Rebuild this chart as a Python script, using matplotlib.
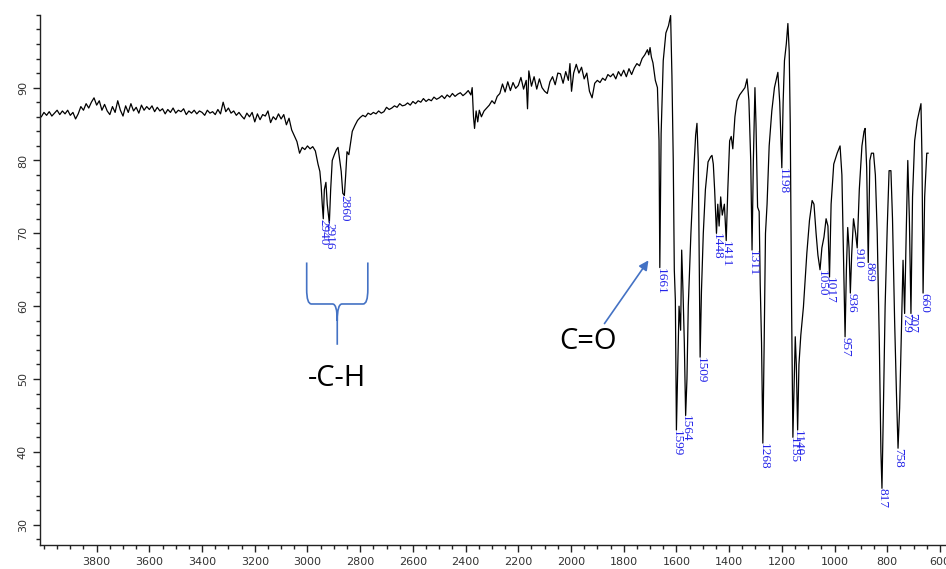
import numpy as np
import matplotlib
matplotlib.use("Agg")
import matplotlib.pyplot as plt
from matplotlib.path import Path
from matplotlib.patches import PathPatch
from matplotlib.ticker import MultipleLocator

# IR spectrum: wavenumber (cm-1) and transmittance (%)
wn_base = [4010, 4000, 3990, 3980, 3970, 3960, 3950, 3940, 3930, 3920, 3910, 3900,
           3890, 3880, 3870, 3860, 3850, 3840, 3830, 3820, 3810, 3800, 3790, 3780,
           3770, 3760, 3750, 3740, 3730, 3720, 3710, 3700, 3690, 3680, 3670, 3660,
           3650, 3640, 3630, 3620, 3610, 3600, 3590, 3580, 3570, 3560, 3550, 3540,
           3530, 3520, 3510, 3500, 3490, 3480, 3470, 3460, 3450, 3440, 3430, 3420,
           3410, 3400, 3390, 3380, 3370, 3360, 3350, 3340, 3330, 3320, 3310, 3300,
           3290, 3280, 3270, 3260, 3250, 3240, 3230, 3220, 3210, 3200, 3190, 3180,
           3170, 3160, 3150, 3140, 3130, 3120, 3110, 3100, 3090, 3080, 3070, 3060]
tr_base = [86.0, 86.6, 86.2, 86.7, 86.1, 86.5, 86.9, 86.3, 86.8, 86.4, 86.9, 86.2,
           86.6, 85.7, 86.4, 87.4, 86.9, 87.8, 87.2, 88.0, 88.6, 87.6, 88.2, 86.9,
           87.7, 86.8, 86.3, 87.4, 86.6, 88.2, 86.9, 86.1, 87.5, 86.6, 87.8, 86.8,
           87.3, 86.5, 87.6, 86.9, 87.4, 87.0, 87.5, 86.7, 87.3, 86.8, 87.1, 86.4,
           87.0, 86.6, 87.2, 86.5, 86.9, 86.7, 87.1, 86.3, 86.8, 86.5, 86.9, 86.4,
           86.8, 86.6, 86.2, 86.9, 86.5, 86.7, 86.3, 87.0, 86.4, 88.0, 86.7, 87.2,
           86.5, 86.8, 86.2, 86.6, 86.1, 85.7, 86.5, 86.0, 86.6, 85.3, 86.4, 85.6,
           86.3, 86.1, 86.8, 85.2, 86.0, 85.6, 86.4, 85.7, 86.3, 84.9, 85.8, 84.2]

wn_ch = [3050, 3040, 3030, 3020, 3010, 3000, 2990, 2980, 2970, 2960, 2953, 2948,
         2944, 2940, 2936, 2930, 2925, 2917, 2912, 2906, 2898, 2890, 2884, 2878,
         2872, 2866, 2860, 2855, 2850, 2843, 2838, 2830, 2820, 2810, 2800, 2790,
         2780, 2770, 2760, 2750, 2740, 2730, 2720, 2710, 2700, 2690, 2680, 2670,
         2660, 2650, 2640, 2630, 2620, 2610, 2600, 2590, 2580, 2570, 2560, 2550,
         2540, 2530, 2520, 2510, 2500, 2490, 2480, 2470, 2460, 2450, 2440, 2430,
         2420, 2410, 2400, 2390, 2380, 2375, 2370, 2366, 2360, 2354, 2348, 2340,
         2330, 2320, 2310, 2300, 2290, 2280, 2270, 2260, 2250, 2240, 2230, 2220,
         2210, 2200, 2190, 2180, 2170, 2165, 2160, 2150, 2140, 2130, 2120, 2110,
         2100, 2090, 2080, 2070, 2060, 2050, 2040, 2030, 2020, 2010, 2004, 1998,
         1990, 1980, 1970, 1960, 1950, 1940, 1930, 1920, 1910, 1900, 1890, 1880,
         1870, 1860, 1850, 1840, 1830, 1820, 1810, 1800, 1790, 1780, 1770, 1760,
         1750, 1740, 1730, 1720, 1710, 1705, 1700, 1695, 1689, 1680, 1672]
tr_ch = [83.4, 82.6, 81.0, 81.8, 81.5, 82.0, 81.6, 81.9, 81.3, 79.5, 78.5, 76.5,
         74.0, 72.0, 76.0, 77.0, 74.0, 71.4, 76.0, 80.0, 80.8, 81.5, 81.8, 80.2,
         78.5, 75.5, 75.2, 78.0, 81.2, 80.8, 82.0, 84.0, 84.8, 85.5, 85.9, 86.2,
         86.0, 86.5, 86.3, 86.6, 86.4, 86.8, 86.5, 86.7, 87.3, 87.0, 87.2, 87.5,
         87.3, 87.8, 87.5, 87.6, 87.9, 87.6, 88.1, 87.8, 88.2, 88.0, 88.5, 88.1,
         88.4, 88.2, 88.7, 88.4, 88.6, 88.9, 88.5, 89.0, 88.7, 89.2, 88.8, 89.1,
         89.3, 88.9, 89.2, 89.6, 89.0, 90.0, 86.0, 84.4, 86.8, 85.3, 86.9, 86.0,
         86.8, 87.2, 87.6, 88.2, 87.8, 88.8, 89.2, 90.5, 89.4, 90.8, 89.6, 90.7,
         89.9, 90.3, 91.4, 89.8, 91.0, 87.1, 92.3, 90.2, 91.5, 89.8, 91.2, 90.0,
         89.5, 89.2, 90.8, 91.5, 90.4, 92.0, 91.9, 90.6, 92.2, 91.0, 93.3, 89.5,
         92.0, 93.2, 92.0, 92.8, 91.2, 92.0, 89.5, 88.6, 90.6, 91.0, 90.7, 91.3,
         91.0, 91.8, 91.5, 91.9, 91.2, 92.2, 91.6, 92.4, 91.5, 92.6, 91.8, 92.7,
         93.3, 93.0, 94.0, 94.5, 95.2, 94.5, 95.5, 94.2, 93.4, 91.0, 90.0]

wn_fp = [1666, 1663, 1658, 1650, 1640, 1630, 1622, 1617, 1612, 1608, 1604, 1600,
         1596, 1590, 1584, 1580, 1575, 1570, 1565, 1560, 1555, 1545, 1535, 1527,
         1522, 1517, 1513, 1510, 1505, 1498, 1490, 1480, 1470, 1465, 1460, 1455,
         1448, 1443, 1438, 1432, 1426, 1418, 1411, 1405, 1398, 1392, 1386, 1378,
         1370, 1360, 1350, 1340, 1332, 1325, 1318, 1313, 1308, 1302, 1298, 1292,
         1286, 1282, 1277, 1272, 1267, 1262, 1256, 1248, 1238, 1228, 1215, 1208,
         1200, 1195, 1190, 1183, 1177, 1172, 1168, 1163, 1158, 1153, 1149, 1145,
         1140, 1135, 1128, 1118, 1105, 1095, 1085, 1078, 1070, 1063, 1055, 1048,
         1040, 1032, 1025, 1019, 1013, 1003, 990, 979, 972, 966, 960, 955,
         950, 945, 940, 935, 928, 920, 914, 906, 896, 888, 884, 878,
         872, 866, 860, 852, 845, 838, 830, 824, 820, 815, 808, 800,
         793, 786, 780, 772, 765, 759, 753, 746, 740, 734, 728, 722,
         716, 710, 704, 696, 686, 680, 672, 668, 664, 658, 650, 645]
tr_fp = [82.7, 65.3, 83.7, 93.7, 97.5, 98.5, 99.9, 91.6, 80.0, 65.0, 60.8, 43.0,
         50.0, 60.0, 56.7, 67.7, 62.0, 55.0, 45.0, 50.0, 60.0, 70.0, 78.0, 83.5,
         85.1, 80.0, 65.0, 53.0, 62.0, 70.0, 76.0, 79.8, 80.5, 80.7, 79.5, 76.0,
         70.0, 74.0, 71.0, 75.0, 72.5, 74.0, 69.0, 76.0, 82.7, 83.3, 81.6, 86.0,
         88.2, 89.0, 89.5, 90.0, 91.2, 88.3, 80.0, 67.7, 80.0, 90.0, 85.0, 73.6,
         73.0, 63.0, 55.0, 41.2, 55.0, 70.0, 74.0, 82.0, 86.8, 90.0, 92.1, 88.0,
         79.0, 88.0, 93.7, 96.0, 98.8, 95.0, 85.0, 60.0, 42.0, 50.0, 55.8, 52.0,
         43.0, 52.0, 56.0, 59.9, 67.3, 71.8, 74.5, 74.0, 70.0, 67.0, 65.0, 68.0,
         69.5, 72.0, 71.0, 64.0, 74.0, 79.5, 81.0, 82.0, 78.0, 67.0, 55.8, 65.0,
         70.8, 68.0, 61.8, 67.0, 72.0, 70.0, 68.0, 76.0, 82.0, 84.0, 84.4, 79.0,
         66.0, 80.0, 81.0, 81.0, 78.0, 70.0, 55.0, 40.0, 35.0, 45.0, 60.0, 70.8,
         78.6, 78.6, 72.0, 58.0, 48.0, 40.5, 46.0, 57.0, 66.3, 59.0, 70.0, 80.0,
         72.0, 59.0, 75.0, 82.7, 85.5, 86.5, 87.8, 80.0, 61.8, 75.0, 81.0, 81.0]

wn = wn_base + wn_ch + wn_fp
tr = tr_base + tr_ch + tr_fp

# peak labels (wavenumber, transmittance at the minimum)
peak_wn = [2940, 2916, 2860, 1661, 1599, 1564, 1509, 1448, 1411, 1311, 1268, 1198,
           1155, 1140, 1050, 1017, 957, 936, 910, 869, 817, 758, 729, 707, 660]
peak_tr = [72.0, 71.4, 75.2, 65.3, 43.0, 45.0, 53.0, 70.0, 69.0, 67.7, 41.2, 79.0,
           42.0, 43.0, 65.0, 64.0, 55.8, 61.8, 68.0, 66.0, 35.0, 40.5, 59.0, 59.0, 61.8]

fig = plt.figure(figsize=(9.46, 5.69), dpi=100)
ax = fig.add_axes([0.042, 0.042, 0.958, 0.932])

ax.plot(wn, tr, color='black', lw=0.9)

ax.set_xlim(4016, 577)
ax.set_ylim(27.2, 100.0)

for s in ['top', 'right']:
    ax.spines[s].set_visible(False)
for s in ['left', 'bottom']:
    ax.spines[s].set_color('#222222')
    ax.spines[s].set_linewidth(1.0)

ax.xaxis.set_minor_locator(MultipleLocator(50))
ax.yaxis.set_minor_locator(MultipleLocator(2))
ax.tick_params(axis='both', which='major', length=5, width=1, color='#222222',
               labelsize=8, labelcolor='#333333')
ax.tick_params(axis='both', which='minor', length=3, width=1, color='#222222')
ax.set_xticks([t for t in range(600, 3801, 200)])
ax.set_xticklabels([str(t) for t in range(600, 3801, 200)])
ax.set_yticks([30, 40, 50, 60, 70, 80, 90])
for lab in ax.get_yticklabels():
    lab.set_rotation(90)
    lab.set_va('center')

for w, t in zip(peak_wn, peak_tr):
    ax.text(w, t, str(w), rotation=-90, ha='center', va='top', color='#2424e8',
            fontsize=9.5, family='Liberation Serif')

# brace under the C-H bands
blue = '#4472c4'
verts = [(3003, 66.0), (3003, 62.3), (3003, 60.3), (2985, 60.3), (2905, 60.3),
         (2887, 60.3), (2887, 58.0), (2887, 54.7),
         (2887, 58.0), (2887, 60.3), (2869, 60.3), (2789, 60.3),
         (2771, 60.3), (2771, 62.3), (2771, 66.0)]
codes = [Path.MOVETO, Path.LINETO, Path.CURVE3, Path.CURVE3, Path.LINETO,
         Path.CURVE3, Path.CURVE3, Path.LINETO,
         Path.MOVETO, Path.CURVE3, Path.CURVE3, Path.LINETO,
         Path.CURVE3, Path.CURVE3, Path.LINETO]
ax.add_patch(PathPatch(Path(verts, codes), fill=False, edgecolor=blue, lw=1.2))
ax.text(2889, 50.1, '-C-H', ha='center', va='center', fontsize=21,
        family='Open Sans', color='black')

ax.annotate('', xy=(1700, 66.6), xytext=(1879, 57.3),
            arrowprops=dict(arrowstyle='-|>', color=blue, lw=1.2, mutation_scale=14))
ax.text(1936, 55.1, 'C=O', ha='center', va='center', fontsize=21,
        family='Open Sans', color='black')

fig.savefig('out.png', dpi=100)
